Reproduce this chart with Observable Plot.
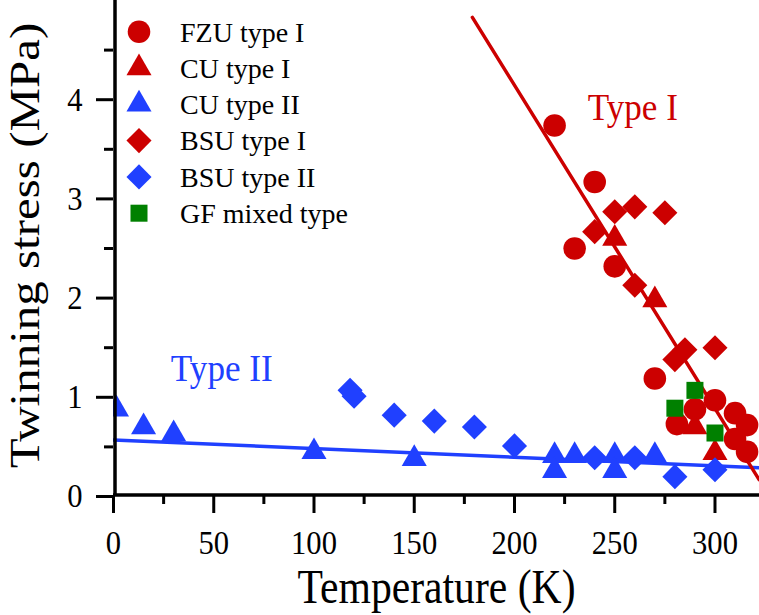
<!DOCTYPE html>
<html><head><meta charset="utf-8">
<script src="https://cdn.jsdelivr.net/npm/d3@7"></script>
<script src="https://cdn.jsdelivr.net/npm/@observablehq/plot@0.6"></script>
<style>
body{margin:0;background:#fff;}
#chart{position:relative;width:759px;height:615px;}
</style></head><body><div id="chart"></div>
<script>
// ---- data ----
const fzuI_T = [220, 240, 230, 250, 270, 281, 290, 300, 310, 316, 310, 316];
const fzuI_S = [3.74, 3.17, 2.50, 2.32, 1.19, 0.73, 0.88, 0.97, 0.84, 0.72, 0.58, 0.45];
const cuI_T = [250, 270, 290, 300];
const cuI_S = [2.60, 1.98, 0.70, 0.44];
const cuII_T = [1.5, 15, 30, 100, 150, 220, 220, 230, 250, 250, 270];
const cuII_S = [0.88, 0.70, 0.63, 0.45, 0.38, 0.41, 0.26, 0.41, 0.41, 0.26, 0.41];
const bsuI_T = [240, 250, 260, 275, 260, 280, 285, 300];
const bsuI_S = [2.67, 2.87, 2.92, 2.86, 2.13, 1.38, 1.48, 1.50];
const bsuII_T = [118, 120, 140, 160, 180, 200, 240, 260, 280, 300];
const bsuII_S = [1.07, 1.01, 0.82, 0.76, 0.70, 0.51, 0.39, 0.39, 0.20, 0.27];
const gf_T = [280, 290, 300];
const gf_S = [0.89, 1.07, 0.64];
const fitI_T = [179, 322];
const fitI_S = [4.83, 0.17];
const fitII_T = [0, 322];
const fitII_S = [0.57, 0.29];

const xMajor = [0, 50, 100, 150, 200, 250, 300];
const xMinor = [25, 75, 125, 175, 225, 275];
const yMajor = [0, 1, 2, 3, 4];
const yMinor = [0.5, 1.5, 2.5, 3.5, 4.5];

const legendNames = ["FZU type I", "CU type I", "CU type II", "BSU type I", "BSU type II", "GF mixed type"];
const xTitle = "Temperature (K)";
const yTitle = "Twinning stress (MPa)";
const typeLabels = [{T: 259, S: 3.91, text: "Type I"}, {T: 54, S: 1.28, text: "Type II"}];

// ---- styles ----
const RED = "#cc0000", BLUE = "#2040ff", GREEN = "#008000";
const SERIF = "'Liberation Serif','Times New Roman',Times,serif";
const legendColors = [RED, RED, BLUE, RED, BLUE, GREEN];
const legendSymbols = ["circle", "triangle", "triangle", "diamond2", "diamond2", "square"];
const SYM = {circle: d3.symbolCircle, triangle: d3.symbolTriangle, diamond2: d3.symbolDiamond2, square: d3.symbolSquare};
const RAD = {circle: 11.3, triangle: 9.3, diamond2: 11.3, square: 9.6};

const pts = (T, S) => T.map((t, i) => ({T: t, S: S[i]}));
const dots = (T, S, sym, color) =>
  Plot.dot(pts(T, S), {x: "T", y: "S", symbol: sym, r: RAD[sym], fill: color, stroke: "none", clip: true});

const plot = Plot.plot({
  width: 759, height: 615,
  marginLeft: 113, marginRight: 0, marginTop: 0, marginBottom: 119,
  x: {domain: [0, 322.2]},
  y: {domain: [0, 5]},
  style: {fontFamily: SERIF, background: "white", color: "black", overflow: "visible"},
  marks: [
    Plot.axisX({ticks: xMinor, tickSize: 8, tickFormat: () => "", strokeWidth: 3, label: null}),
    Plot.axisX({ticks: xMajor, tickSize: 17, tickPadding: 16, fontSize: 34, strokeWidth: 3, tickFormat: d => String(d), label: null}),
    Plot.axisY({ticks: yMinor, tickSize: 9, tickFormat: () => "", strokeWidth: 3, label: null}),
    Plot.axisY({ticks: yMajor, tickSize: 17, tickPadding: 14, fontSize: 34, strokeWidth: 3, tickFormat: d => String(d), label: null}),
    Plot.line(pts(fitII_T, fitII_S), {x: "T", y: "S", stroke: BLUE, strokeWidth: 3.5, clip: true}),
    Plot.line(pts(fitI_T, fitI_S), {x: "T", y: "S", stroke: RED, strokeWidth: 3.5, clip: true}),
    dots(fzuI_T, fzuI_S, "circle", RED),
    dots(cuI_T, cuI_S, "triangle", RED),
    dots(cuII_T, cuII_S, "triangle", BLUE),
    dots(bsuI_T, bsuI_S, "diamond2", RED),
    dots(bsuII_T, bsuII_S, "diamond2", BLUE),
    dots(gf_T, gf_S, "square", GREEN),
    Plot.ruleX([0], {strokeWidth: 3.5, dx: 1.5}),
    Plot.ruleY([0], {strokeWidth: 3.5, dy: -1.5}),
    Plot.text(typeLabels, {x: "T", y: "S", text: "text", fill: (d, i) => i === 0 ? RED : BLUE, fontSize: 37}),
    Plot.text([xTitle], {text: d => d, frameAnchor: "bottom", textAnchor: "middle", lineAnchor: "middle", dy: 91, fontSize: 49}),
    Plot.text([yTitle], {text: d => d, frameAnchor: "left", textAnchor: "middle", lineAnchor: "middle", rotate: -90, dx: -88, dy: -3, fontSize: 49})
  ]
});

// Legend inside the frame (top-left)
const svg = d3.select(plot);
const lg = svg.append("g").attr("font-family", SERIF).attr("font-size", 28).attr("text-anchor", "start");
legendNames.forEach((name, i) => {
  const y = 31.7 + i * 36.3;
  const s = legendSymbols[i];
  lg.append("path")
    .attr("d", d3.symbol(SYM[s], Math.PI * RAD[s] * RAD[s])())
    .attr("transform", `translate(139,${y})`)
    .attr("fill", legendColors[i]);
  lg.append("text").attr("x", 180).attr("y", y).attr("dy", "0.35em")
    .attr("text-anchor", "start").attr("fill", "black").text(name);
});

// Narrow the glyphs horizontally, as in the original figure
svg.selectAll("text").each(function() {
  const txt = this.textContent;
  let sx = 1;
  if (/^\d+$/.test(txt)) sx = 0.9;
  else if (txt === xTitle || txt === yTitle) sx = 0.85;
  else if (txt.startsWith("Type")) sx = 0.95;
  if (sx === 1) return;
  const t = this.getAttribute("transform") || "";
  const m = t.match(/translate\(\s*([^,\s]+)[,\s]+([^)\s]+)\s*\)(.*)/);
  if (m) {
    this.setAttribute("transform", `translate(${m[1]},${m[2]}) scale(${sx},1)${m[3]}`);
  } else {
    const x = +this.getAttribute("x") || 0, y = +this.getAttribute("y") || 0;
    this.setAttribute("x", 0); this.setAttribute("y", 0);
    this.setAttribute("transform", `translate(${x},${y}) scale(${sx},1) ${t}`);
  }
});

document.getElementById("chart").appendChild(plot);
</script>
</body></html>
